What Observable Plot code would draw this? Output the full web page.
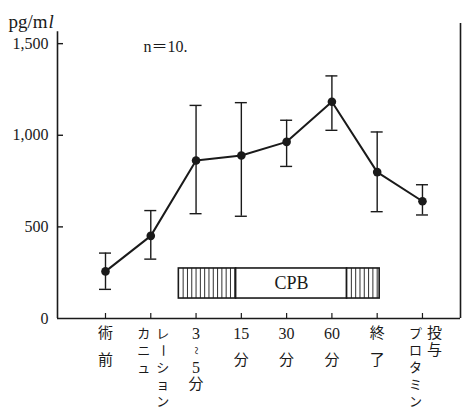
<!DOCTYPE html>
<html><head><meta charset="utf-8">
<script src="https://cdn.jsdelivr.net/npm/d3@7"></script>
<script src="https://cdn.jsdelivr.net/npm/@observablehq/plot@0.6"></script>
<style>body{margin:0;background:#fff}</style>
</head><body><div id="chart"></div>
<script>
// ---- data ----
const categories = ["術前", "カニュレーション", "3~5分", "15分", "30分", "60分", "終了", "プロタミン投与"];
const means = [257, 451, 862, 890, 964, 1183, 799, 640];
const upper = [357, 589, 1163, 1178, 1082, 1324, 1018, 730];
const lower = [159, 324, 572, 558, 830, 1027, 583, 565];
const yTicks = [0, 500, 1000, 1500];
// tick labels written vertically: columns of rows
const tickLabelColumns = [
  [["術", "前"]],
  [["カ", "ニ", "ュ"], ["レ", "ー", "シ", "ョ", "ン"]],
  [["3", "~", "5", "分"]],
  [["15", "分"]],
  [["30", "分"]],
  [["60", "分"]],
  [["終", "了"]],
  [["プ", "ロ", "タ", "ミ", "ン"], ["投", "与"]]
];
// CPB phase bar (x in category-index units, y in pg/ml units)
const cpbPhases = [
  {from: 1.62, to: 2.885, hatched: true, label: ""},
  {from: 2.885, to: 5.335, hatched: false, label: "CPB"},
  {from: 5.335, to: 6.055, hatched: true, label: ""}
];
const cpbRange = [109, 273];
const unitText = "pg/m";
const unitItalic = "l";
const sampleNote = "n＝10.";
const sampleNotePos = {x: 0.84, y: 1485};

// ---- layout ----
const W = 462, H = 409, ML = 57, MR = 2, MT = 23, MB = 91;
const xDomain = [-1.06, 7.84], yDomain = [0, 1610];
const kx = (W - ML - MR) / (xDomain[1] - xDomain[0]);
const ky = (H - MT - MB) / (yDomain[1] - yDomain[0]);
const ink = "#1a1a1a";
const font = "'Liberation Serif', 'Noto Sans CJK JP', serif";

const points = categories.map((c, i) => ({i, c, m: means[i], hi: upper[i], lo: lower[i]}));

const labelCells = [];
tickLabelColumns.forEach((cols, i) => {
  const long = cols.length > 1 || cols[0].length > 2;
  const step = long ? 17 : 27;
  cols.forEach((col, j) => {
    const dxPx = cols.length > 1 ? -7 + 19 * j : 0;
    col.forEach((ch, r) => {
      labelCells.push({
        x: i + dxPx / kx,
        y: -(15 + r * step) / ky,
        ch,
        size: /[\u30A0-\u30FF]/.test(ch) ? 13 : /\d/.test(ch) ? 16 : 15,
        rot: (ch === "ー" || ch === "~") ? 90 : 0
      });
    });
  });
});

const hatchXs = cpbPhases.filter(p => p.hatched)
  .flatMap(p => d3.range(p.from + 0.095, p.to - 0.02, 0.095));

const chart = Plot.plot({
  width: W, height: H,
  marginLeft: ML, marginRight: MR, marginTop: MT, marginBottom: MB,
  style: {fontFamily: font, fontSize: "16px", color: ink, background: "#fff"},
  x: {domain: xDomain, axis: null},
  y: {domain: yDomain, ticks: yTicks, tickFormat: d3.format(","), tickSize: 0, tickPadding: 9, label: null},
  marks: [
    // axes lines
    Plot.ruleX([xDomain[0]], {y1: 0, y2: 1565, stroke: ink, strokeWidth: 1.6}),
    Plot.ruleY([0], {x1: xDomain[0], x2: xDomain[1], stroke: ink, strokeWidth: 1.4}),
    Plot.ruleX([xDomain[1]], {y1: 0, y2: yDomain[1], stroke: ink, strokeWidth: 1.6}),
    Plot.ruleY(yTicks.filter(v => v > 0), {x1: xDomain[0], x2: xDomain[0] + 6 / kx, stroke: ink, strokeWidth: 1.4}),
    Plot.ruleX(d3.range(categories.length), {y1: 0, y2: 5 / ky, stroke: ink, strokeWidth: 1.2}),
    // CPB bar
    Plot.rect(cpbPhases, {x1: "from", x2: "to", y1: cpbRange[0], y2: cpbRange[1], fill: "#fff", stroke: ink, strokeWidth: 1.6}),
    Plot.ruleX(hatchXs, {y1: cpbRange[0], y2: cpbRange[1], stroke: ink, strokeWidth: 0.9}),
    Plot.text(cpbPhases.filter(p => p.label), {x: p => (p.from + p.to) / 2, y: (cpbRange[0] + cpbRange[1]) / 2, text: "label", fontSize: 18, fill: ink}),
    // error bars
    Plot.ruleX(points, {x: "i", y1: "lo", y2: "hi", stroke: ink, strokeWidth: 1.4}),
    Plot.ruleY(points, {y: "hi", x1: d => d.i - 6 / kx, x2: d => d.i + 6 / kx, stroke: ink, strokeWidth: 1.4}),
    Plot.ruleY(points, {y: "lo", x1: d => d.i - 6 / kx, x2: d => d.i + 6 / kx, stroke: ink, strokeWidth: 1.4}),
    // mean line and dots
    Plot.line(points, {x: "i", y: "m", stroke: ink, strokeWidth: 2}),
    Plot.dot(points, {x: "i", y: "m", r: 4.3, fill: ink, stroke: "none"}),
    // category labels
    Plot.text(labelCells, {x: "x", y: "y", text: "ch", fontSize: "size", rotate: "rot", fill: ink, lineAnchor: "middle"}),
    // unit label
    Plot.text([unitText], {frameAnchor: "top-left", dx: -49, dy: -9, text: d => d, textAnchor: "start", fontSize: 19, fill: ink}),
    Plot.text([unitItalic], {frameAnchor: "top-left", dx: -9, dy: -9, text: d => d, textAnchor: "start", fontSize: 19, fontStyle: "italic", fill: ink}),
    // n note
    Plot.text([sampleNote], {x: sampleNotePos.x, y: sampleNotePos.y, text: d => d, textAnchor: "start", fontSize: 16, fill: ink})
  ]
});
document.getElementById("chart").appendChild(chart);
</script>
</body></html>
